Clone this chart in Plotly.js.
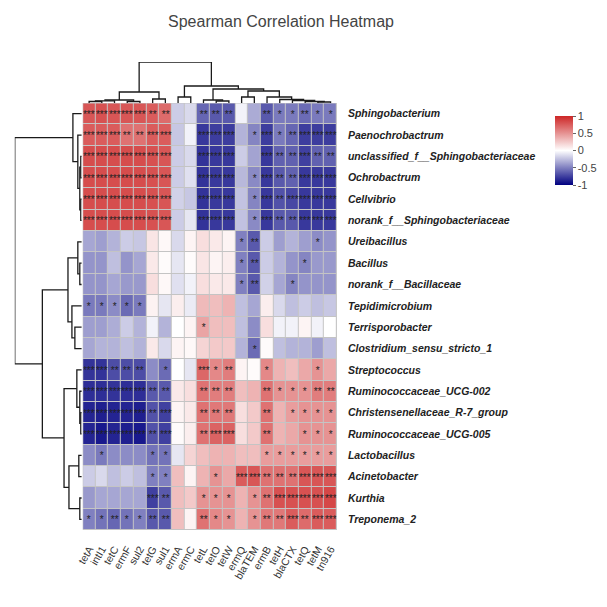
<!DOCTYPE html>
<html>
<head>
<meta charset="utf-8">
<script src="https://cdn.plot.ly/plotly-3.0.1.min.js"></script>
<style>html,body{margin:0;padding:0;background:#fff;}#chart{width:607px;height:607px;}</style>
</head>
<body>
<div id="chart"></div>
<script>
const colLabels = ["tetA","intI1","tetC","ermF","sul2","tetG","sul1","ermA","ermC","tetL","tetO","tetW","ermQ","blaTEM","ermB","tetH","blaCTX","tetQ","tetM","tn916"];
const rowLabels = ["Sphingobacterium","Paenochrobactrum","unclassified_f__Sphingobacteriaceae","Ochrobactrum","Cellvibrio","norank_f__Sphingobacteriaceae","Ureibacillus","Bacillus","norank_f__Bacillaceae","Tepidimicrobium","Terrisporobacter","Clostridium_sensu_stricto_1","Streptococcus","Ruminococcaceae_UCG-002","Christensenellaceae_R-7_group","Ruminococcaceae_UCG-005","Lactobacillus","Acinetobacter","Kurthia","Treponema_2"];

const corrValues = [
 [0.78,0.80,0.78,0.78,0.78,0.75,0.68,-0.20,-0.15,-0.60,-0.65,-0.65,-0.05,-0.33,-0.65,-0.52,-0.52,-0.58,-0.52,-0.52],
 [0.75,0.75,0.75,0.65,0.65,0.75,0.75,-0.22,-0.05,-0.78,-0.76,-0.76,-0.30,-0.48,-0.76,-0.52,-0.60,-0.76,-0.76,-0.76],
 [0.82,0.82,0.82,0.82,0.82,0.80,0.78,-0.20,-0.15,-0.80,-0.78,-0.78,-0.20,-0.36,-0.78,-0.62,-0.62,-0.75,-0.62,-0.62],
 [0.82,0.82,0.82,0.82,0.82,0.80,0.78,-0.20,-0.12,-0.80,-0.78,-0.78,-0.28,-0.46,-0.78,-0.65,-0.62,-0.78,-0.78,-0.78],
 [0.82,0.82,0.82,0.82,0.82,0.80,0.78,-0.18,-0.22,-0.80,-0.78,-0.78,-0.24,-0.48,-0.78,-0.68,-0.72,-0.78,-0.78,-0.78],
 [0.82,0.82,0.82,0.82,0.82,0.80,0.78,-0.20,-0.10,-0.80,-0.78,-0.78,-0.24,-0.46,-0.78,-0.65,-0.65,-0.78,-0.78,-0.78],
 [-0.35,-0.38,-0.30,-0.20,-0.22,0.12,0.03,-0.15,0.05,0.15,0.10,0.05,-0.50,-0.65,-0.20,-0.38,-0.30,-0.38,-0.45,-0.42],
 [-0.42,-0.42,-0.25,-0.42,-0.35,0.10,0.02,-0.10,0.02,0.12,0.05,0.08,-0.50,-0.65,-0.20,-0.30,-0.42,-0.48,-0.40,-0.40],
 [-0.42,-0.42,-0.35,-0.40,-0.40,0.15,0.03,-0.12,-0.05,0.15,0.10,0.10,-0.50,-0.65,-0.18,-0.35,-0.48,-0.42,-0.42,-0.42],
 [-0.52,-0.52,-0.45,-0.58,-0.52,0.06,-0.10,0.08,-0.08,0.32,0.30,0.35,-0.25,-0.35,0.08,-0.15,-0.25,-0.20,-0.25,-0.22],
 [-0.38,-0.38,-0.32,-0.20,-0.30,-0.05,-0.30,0.00,0.05,0.42,0.30,0.30,-0.25,-0.45,0.15,-0.05,-0.05,0.05,-0.05,0.00],
 [-0.35,-0.30,-0.30,-0.25,-0.30,0.10,-0.15,0.05,0.03,0.20,0.25,0.25,-0.30,-0.58,0.02,-0.25,-0.30,-0.30,-0.38,-0.25],
 [-0.80,-0.80,-0.70,-0.70,-0.70,-0.45,-0.58,0.00,-0.10,0.70,0.55,0.60,0.05,0.02,0.55,0.35,0.30,0.40,0.50,0.40],
 [-0.82,-0.82,-0.80,-0.82,-0.82,-0.65,-0.65,0.10,0.15,0.65,0.60,0.60,0.30,0.35,0.65,0.50,0.50,0.50,0.60,0.60],
 [-0.86,-0.88,-0.86,-0.86,-0.88,-0.68,-0.75,0.05,0.10,0.65,0.62,0.62,0.15,0.25,0.65,0.35,0.45,0.50,0.50,0.50],
 [-0.86,-0.90,-0.86,-0.88,-0.90,-0.68,-0.75,0.02,0.08,0.65,0.72,0.72,0.15,0.25,0.65,0.35,0.40,0.50,0.50,0.50],
 [-0.45,-0.52,-0.45,-0.45,-0.45,-0.55,-0.55,-0.10,0.20,0.30,0.35,0.35,0.30,0.30,0.45,0.45,0.45,0.45,0.45,0.45],
 [-0.20,-0.15,-0.25,-0.20,-0.25,-0.50,-0.50,0.30,0.05,0.35,0.50,0.40,0.75,0.78,0.65,0.65,0.65,0.78,0.78,0.78],
 [-0.40,-0.35,-0.35,-0.35,-0.35,-0.75,-0.65,0.30,0.25,0.50,0.50,0.50,0.35,0.50,0.65,0.80,0.80,0.80,0.80,0.85],
 [-0.50,-0.55,-0.60,-0.55,-0.50,-0.65,-0.65,0.30,0.05,0.65,0.55,0.50,0.35,0.50,0.62,0.62,0.75,0.68,0.75,0.75]
];

const sigStars = [
 ["***","***","***","***","***","**","**","","","**","**","**","","","**","*","*","**","*","*"],
 ["***","***","***","**","**","***","***","","","***","***","***","","*","***","*","**","***","***","***"],
 ["***","***","***","***","***","***","***","","","***","***","***","","","***","**","**","***","**","**"],
 ["***","***","***","***","***","***","***","","","***","***","***","","*","***","**","**","***","***","***"],
 ["***","***","***","***","***","***","***","","","***","***","***","","*","***","**","***","***","***","***"],
 ["***","***","***","***","***","***","***","","","***","***","***","","*","***","**","**","***","***","***"],
 ["","","","","","","","","","","","","*","**","","","","","*",""],
 ["","","","","","","","","","","","","*","**","","","","*","",""],
 ["","","","","","","","","","","","","*","**","","","*","","",""],
 ["*","*","*","*","*","","","","","","","","","","","","","","",""],
 ["","","","","","","","","","*","","","","","","","","","",""],
 ["","","","","","","","","","","","","","*","","","","","",""],
 ["***","***","**","**","**","","*","","","***","*","**","","","*","","","","*",""],
 ["***","***","***","***","***","**","**","","","**","**","**","","","**","*","*","*","**","**"],
 ["***","***","***","***","***","**","***","","","**","**","**","","","**","","*","*","*","*"],
 ["***","***","***","***","***","**","***","","","**","***","***","","","**","","","*","*","*"],
 ["","*","","","","*","*","","","","","","","","*","*","*","*","*","*"],
 ["","","","","","*","*","","","","*","","***","***","**","**","**","***","***","***"],
 ["","","","","","***","**","","","*","*","*","","*","**","***","***","***","***","***"],
 ["*","*","**","*","*","**","**","","","**","*","*","","*","**","**","***","**","***","***"]
];

// Cluster trees: leaf = index, node = [left, right, mergeHeight]
const colTree = [
  [[[[0,1,1.5],2,2.2],[3,4,1.5],3],[5,6,4],11],
  [[7,8,6],[[9,[10,11,2],3],[[12,13,6],[14,[15,[16,[17,[18,19,1],1.5],2.5],3.5],6],12],14],17],
  41];
const rowTree = [
  [0,[1,[[2,3,1],[4,5,1],2],4],9],
  [[[6,[7,8,2],4],[9,[10,11,7],10],14],[[12,[13,[14,15,1],2],5],[[16,17,3],[18,19,2],13],18],40],
  68];

function dendro(node){
  if (typeof node === 'number') return {pos:node, h:0, p:[], q:[]};
  const L = dendro(node[0]), R = dendro(node[1]), h = node[2];
  const p = L.p.concat(R.p, [L.pos, L.pos, R.pos, R.pos, null]);
  const q = L.q.concat(R.q, [L.h, h, h, R.h, null]);
  return {pos:(L.pos+R.pos)/2, h:h, p:p, q:q};
}
const cd = dendro(colTree), rd = dendro(rowTree);

const W = 607, H = 607;
const hmL = 84, hmR = 342, hmT = 103, hmB = 530;
const xDom = [hmL/W, hmR/W], yDom = [1-hmB/H, 1-hmT/H];
const idx = colLabels.map((_,i)=>i), ridx = rowLabels.map((_,i)=>i);
const gridGray = '#c4c4c4';

const traces = [
 {type:'heatmap', z:corrValues, x:idx, y:ridx, text:sigStars, texttemplate:'%{text}',
  textfont:{size:10, color:'#222', family:'Liberation Sans, Arial'},
  zmin:-1, zmax:1, xgap:1, ygap:1, hoverongaps:false,
  colorscale:[[0,'#000080'],[0.5,'#ffffff'],[1,'#cd2626']],
  colorbar:{x:553/W, xanchor:'left', y:1-106/H, yanchor:'top', lenmode:'pixels', len:89,
    thickness:18, outlinewidth:0, tickvals:[-1,-0.5,0,0.5,1], ticktext:['-1','-0.5','0','0.5','1'],
    ticks:'outside', ticklen:3, tickcolor:'#666', tickfont:{size:11,color:'#444',family:'Liberation Sans, Arial'}}},
 {type:'scatter', mode:'lines', x:cd.p, y:cd.q, xaxis:'x2', yaxis:'y2', line:{color:'#1a1a1a', width:1.3}, hoverinfo:'skip', showlegend:false},
 {type:'scatter', mode:'lines', x:rd.q, y:rd.p, xaxis:'x3', yaxis:'y3', line:{color:'#1a1a1a', width:1.3}, hoverinfo:'skip', showlegend:false}
];

const hidden = {showgrid:false, zeroline:false, showticklabels:false, ticks:'', showline:false};
const layout = {
  width:W, height:H, margin:{l:0,r:0,t:0,b:0}, paper_bgcolor:'#fff', plot_bgcolor:'#fff',
  showlegend:false,
  title:{text:'Spearman Correlation Heatmap', x:281/W, xanchor:'center', y:1-21/H, yanchor:'middle',
    font:{size:16, color:'#444', family:'Liberation Sans, Arial'}},
  xaxis:{domain:xDom, range:[-0.5,19.5], tickvals:idx, ticktext:colLabels, tickangle:-60,
    showgrid:false, zeroline:false, ticks:'', ticklabelstandoff:10,
    tickfont:{size:10.5, color:'#333', family:'Liberation Sans, Arial'}},
  yaxis:{domain:yDom, range:[19.5,-0.5], tickvals:ridx, ticktext:rowLabels, side:'right',
    showgrid:false, zeroline:false, ticks:'', ticklabelstandoff:10,
    tickfont:{size:10.5, color:'#222', family:'Liberation Sans, Arial', weight:'bold', style:'italic'}},
  xaxis2:Object.assign({domain:xDom, range:[-0.5,19.5], anchor:'y2'}, hidden),
  yaxis2:Object.assign({domain:[1-hmT/H, 1-62/H], range:[0,41], anchor:'x2'}, hidden),
  xaxis3:Object.assign({domain:[15/W, (hmL-1)/W], range:[68,0], anchor:'y3'}, hidden),
  yaxis3:Object.assign({domain:yDom, range:[19.5,-0.5], anchor:'x3'}, hidden),
  shapes:[
    {type:'rect', xref:'x', yref:'y', x0:-0.5, x1:19.5, y0:-0.5, y1:19.5, layer:'below', fillcolor:gridGray, line:{width:0}},
    {type:'rect', xref:'x', yref:'y', x0:-0.5, x1:19.5, y0:-0.5, y1:19.5, layer:'above', line:{color:gridGray, width:1}}
  ]
};
Plotly.newPlot('chart', traces, layout, {staticPlot:true, displayModeBar:false});
</script>
</body>
</html>
